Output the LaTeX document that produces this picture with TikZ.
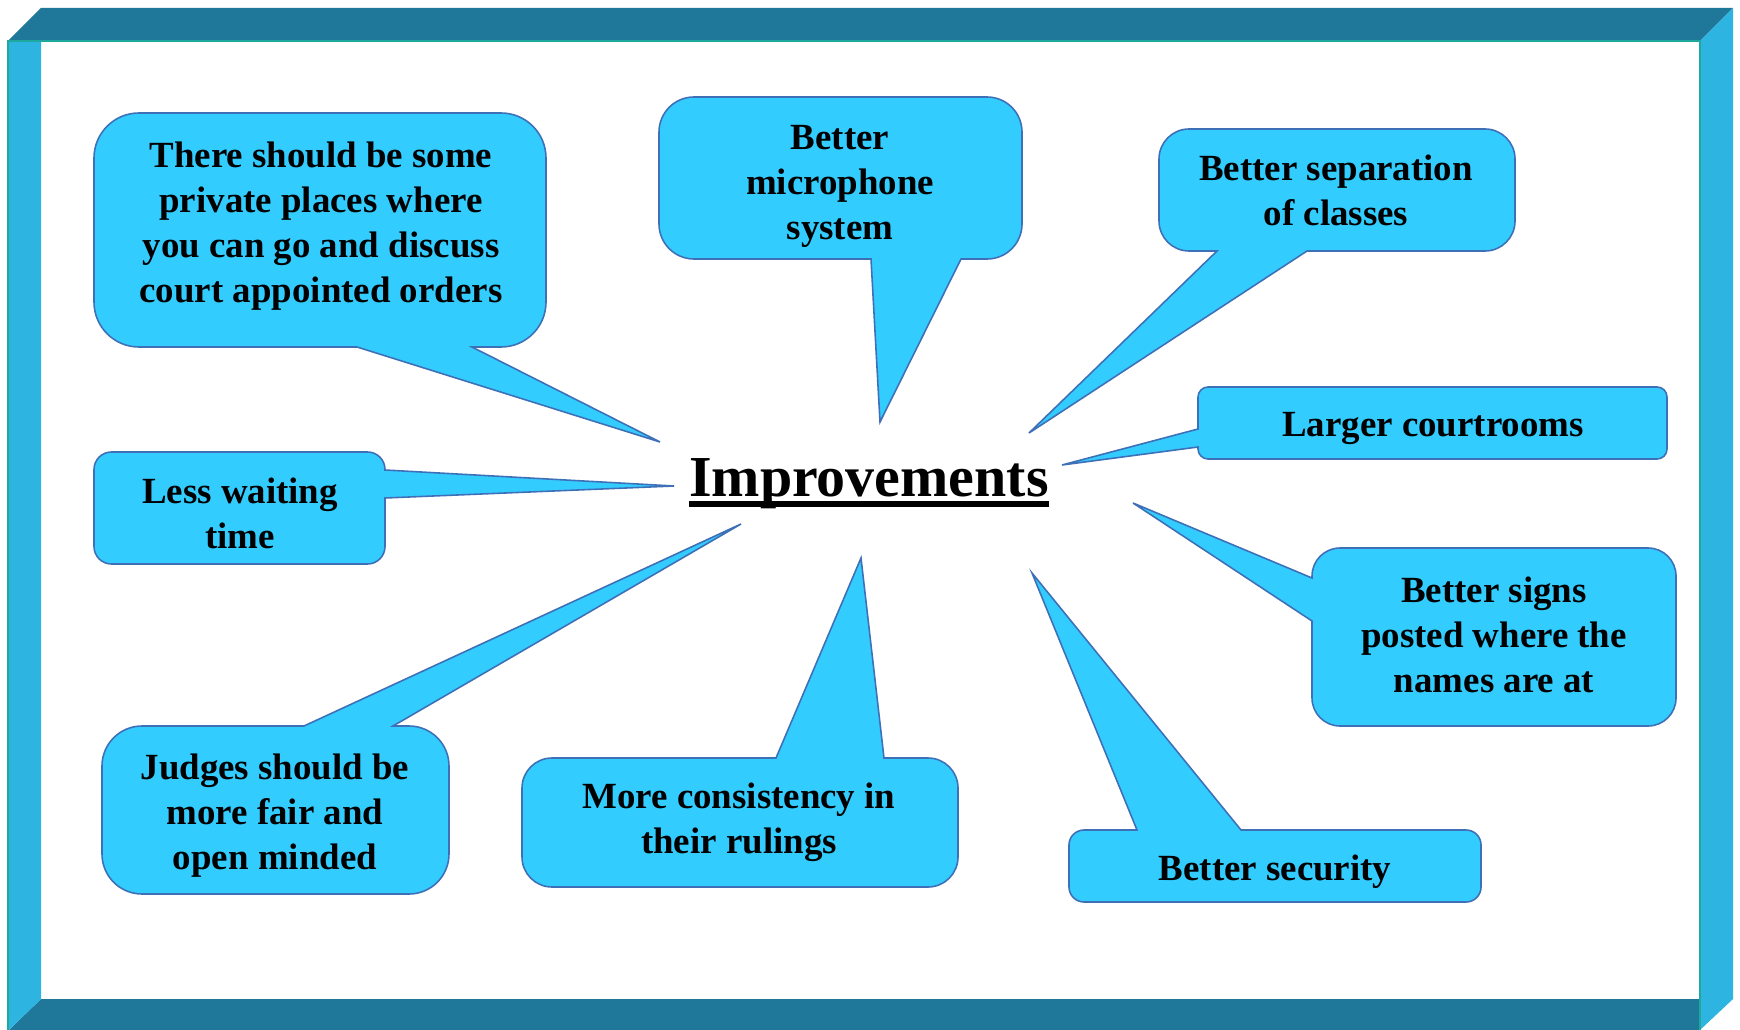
\documentclass[tikz,border=0pt]{standalone}
\usepackage{fontspec}
\setmainfont{Liberation Serif}
\definecolor{bubblefill}{HTML}{33CCFF}
\definecolor{bubbleline}{HTML}{3E70B8}
\definecolor{bardark}{HTML}{1F7899}
\definecolor{barlight}{HTML}{2EB4E0}
\definecolor{baredge}{HTML}{1FA89E}

\begin{document}
\begin{tikzpicture}[x=0.02cm,y=-0.02cm,
  bubble/.style={fill=bubblefill,draw=bubbleline,line width=0.9pt,line join=miter},
  say/.style={align=center,inner sep=0pt,font=\fontsize{21}{25.6}\selectfont\bfseries}]
\useasboundingbox (0,0) rectangle (1740,1030);

% frame
\fill[bardark] (8,41) -- (41,8) -- (1733,8) -- (1700,41) -- cycle;
\fill[barlight] (1700,41) -- (1733,8) -- (1733,999) -- (1700,1030) -- cycle;
\fill[bardark] (41,999) -- (1700,999) -- (1700,1030) -- (9,1030) -- cycle;
\fill[barlight] (8,41) -- (41,41) -- (41,999) -- (9,1030) -- (8,1030) -- cycle;
\draw[baredge,line width=0.8pt] (8,1030) -- (8,41) -- (1700,41) -- (1700,1030);

% title
\node[anchor=base,inner sep=0pt,font=\fontsize{33}{40}\selectfont\bfseries] (imp) at (869,496) {Improvements};
\draw[line width=3.4pt] ([yshift=-0.16cm]imp.base west) -- ([yshift=-0.16cm]imp.base east);

% callouts pointing down
\path[bubble] (320,113) [rounded corners=9mm] -- (546,113) -- (546,347) [sharp corners] -- (472,347)
  -- (660,442) -- (357,347) [rounded corners=9mm] -- (94,347) -- (94,113) -- cycle;
\node[say] (priv) at (321,226) {There should be some\\private places where\\you can go and discuss\\court appointed orders};

\path[bubble] (840,97) [rounded corners=7mm] -- (1022,97) -- (1022,259) [sharp corners] -- (961,259)
  -- (880,422) -- (871,259) [rounded corners=7mm] -- (659,259) -- (659,97) -- cycle;
\node[say] (mic) at (840,186) {Better\\microphone\\system};

\path[bubble] (1337,129) [rounded corners=6mm] -- (1515,129) -- (1515,251) [sharp corners] -- (1307,251)
  -- (1029,433) -- (1217,251) [rounded corners=6mm] -- (1159,251) -- (1159,129) -- cycle;
\node[say] (classes) at (1336,190) {Better separation\\of classes};

% callouts pointing left and right
\path[bubble] (1430,387) [rounded corners=2mm] -- (1667,387) -- (1667,459) -- (1198,459) [sharp corners]
  -- (1198,447) -- (1062,465) -- (1198,429) [rounded corners=2mm] -- (1198,387) -- cycle;
\node[say] (rooms) at (1433,428) {Larger courtrooms};

\path[bubble] (1494,548) [rounded corners=5.6mm] -- (1676,548) -- (1676,726) -- (1312,726) [sharp corners]
  -- (1312,621) -- (1133,503) -- (1312,578) [rounded corners=5.6mm] -- (1312,548) -- cycle;
\node[say] (signs) at (1494,635) {Better signs\\posted where the\\names are at};

\path[bubble] (240,452) [rounded corners=3.5mm] -- (385,452) [sharp corners] -- (385,470)
  -- (674,486) -- (385,498) [rounded corners=3.5mm] -- (385,564) -- (94,564) -- (94,452) -- cycle;
\node[say] (waiting) at (240,513) {Less waiting\\time};

% callouts pointing up
\path[bubble] (1069,866) [rounded corners=3mm] -- (1069,830) [sharp corners] -- (1137,830)
  -- (1032,573) -- (1241,830) [rounded corners=3mm] -- (1481,830) -- (1481,902) -- (1069,902) -- cycle;
\node[say] (security) at (1275,872) {Better security};

\path[bubble] (522,822) [rounded corners=6mm] -- (522,758) [sharp corners] -- (776,758)
  -- (861,558) -- (884,758) [rounded corners=6mm] -- (958,758) -- (958,887) -- (522,887) -- cycle;
\node[say] (rulings) at (739,822) {More consistency in\\their rulings};

\path[bubble] (102,810) [rounded corners=8mm] -- (102,726) [sharp corners] -- (304,726)
  -- (741,524) -- (393,726) [rounded corners=8mm] -- (449,726) -- (449,894) -- (102,894) -- cycle;
\node[say] (judges) at (275,816) {Judges should be\\more fair and\\open minded};
\end{tikzpicture}
\end{document}
